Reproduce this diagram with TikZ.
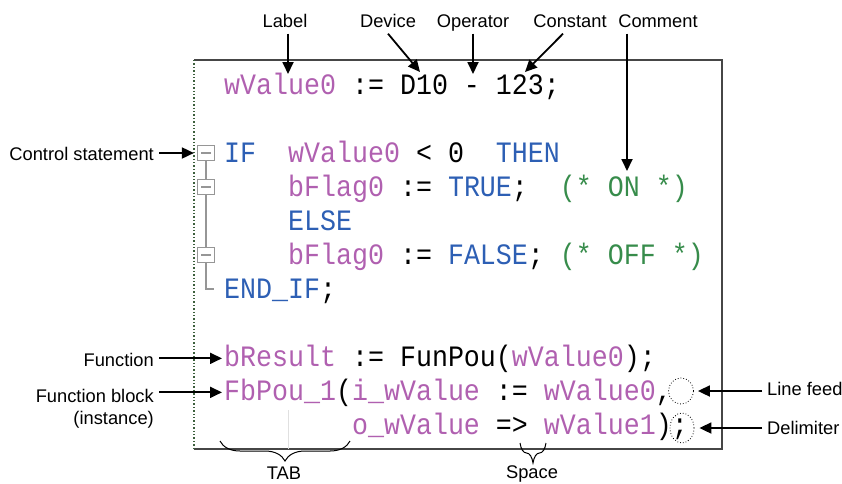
\documentclass[tikz,border=0pt]{standalone}
\usepackage{fontspec}
\setmainfont{Liberation Sans}
\newfontfamily\codefont[FakeStretch=0.9]{Liberation Mono}
\usetikzlibrary{arrows.meta,decorations.pathreplacing,shapes.geometric}

\definecolor{varcol}{RGB}{176,96,176}
\definecolor{keycol}{RGB}{45,95,180}
\definecolor{comcol}{RGB}{55,140,75}
\definecolor{foldcol}{RGB}{150,150,150}
\definecolor{framecol}{RGB}{70,70,70}
\definecolor{gridcol}{RGB}{60,95,60}

\newcommand{\stvar}[1]{\textcolor{varcol}{#1}}
\newcommand{\stkey}[1]{\textcolor{keycol}{#1}}
\newcommand{\stcom}[1]{\textcolor{comcol}{#1}}

\tikzset{
	codeline/.style={font=\codefont\fontsize{29.6}{34}\selectfont, inner sep=0pt, anchor=base west},
	lbl/.style={font=\fontsize{18.3}{22}\selectfont, inner xsep=5pt, inner ysep=3pt},
	lblfix/.style={lbl, text height=13pt, text depth=3.5pt},
	callout/.style={-{Triangle[length=12pt,width=11pt]}, line width=1.8pt},
	foldbox/.style={draw=foldcol, line width=1.2pt, minimum width=17pt, minimum height=15pt, inner sep=0pt},
	foldline/.style={foldcol, line width=1.2pt},
	markring/.style={draw, dotted, line width=0.8pt, ellipse, inner sep=0pt},
	bracket/.style={decorate, decoration={brace, amplitude=20pt, mirror}, line width=1pt}
}

\begin{document}
\begin{tikzpicture}[x=1pt,y=-1pt]

	% ---- parameters

	\def\cx{224}
	\def\rowbase{60}
	\def\pitch{34}

	\useasboundingbox (0,0) rectangle (842,483);

	% ---- coordinates

	\coordinate (boxNW) at (194,60);
	\coordinate (boxNE) at (722,60);
	\coordinate (boxSE) at (722,449);
	\coordinate (boxSW) at (194,449);

	\coordinate (tLabel) at (288,74);
	\coordinate (tDevice) at (420,72);
	\coordinate (tOperator) at (473,74);
	\coordinate (tConstant) at (525,72);
	\coordinate (tComment) at (627,171);

	% ---- editor frame

	\draw[framecol, line width=1.4pt] (boxNW) -- (boxNE) -- (boxSE) -- (boxSW);
	\draw[gridcol, line width=1.4pt, dotted] (boxNW) -- (boxSW);

	% ---- tab guide

	\coordinate (guideT) at (288,410);
	\draw[black!12, line width=1pt] (guideT) -- (guideT |- boxSW);

	% ---- code

	\node[codeline] (c1) at (\cx,{\rowbase+\pitch*1}) {\stvar{wValue0}~:=~D10~-~123;};
	\node[codeline] (c3) at (\cx,{\rowbase+\pitch*3}) {\stkey{IF}~~\stvar{wValue0}~<~0~~\stkey{THEN}};
	\node[codeline] (c4) at (\cx,{\rowbase+\pitch*4}) {~~~~\stvar{bFlag0}~:=~\stkey{TRUE};~~\stcom{(*~ON~*)}};
	\node[codeline] (c5) at (\cx,{\rowbase+\pitch*5}) {~~~~\stkey{ELSE}};
	\node[codeline] (c6) at (\cx,{\rowbase+\pitch*6}) {~~~~\stvar{bFlag0}~:=~\stkey{FALSE};~\stcom{(*~OFF~*)}};
	\node[codeline] (c7) at (\cx,{\rowbase+\pitch*7}) {\stkey{END\_IF};};
	\node[codeline] (c9) at (\cx,{\rowbase+\pitch*9}) {\stvar{bResult}~:=~FunPou(\stvar{wValue0});};
	\node[codeline] (c10) at (\cx,{\rowbase+\pitch*10}) {\stvar{FbPou\_1}(\stvar{i\_wValue}~:=~\stvar{wValue0},};
	\node[codeline] (c11) at (\cx,{\rowbase+\pitch*11}) {~~~~~~~~\stvar{o\_wValue}~=>~\stvar{wValue1});};

	% ---- fold markers

	\foreach \r/\n in {3/1,4/2,6/3} {
		\node[foldbox] (f\n) at (206,{\rowbase+\pitch*\r-9}) {};
		\draw[foldline] ([xshift=-5pt]f\n.center) -- ([xshift=5pt]f\n.center);
	}
	\coordinate (fend) at (214,{\rowbase+\pitch*7-9});
	\draw[foldline] (f1.south) -- (f2.north) (f2.south) -- (f3.north) (f3.south) |- (fend);

	% ---- dotted rings

	\node[markring, minimum width=25pt, minimum height=26pt] (eFeed) at (681,391) {};
	\node[markring, minimum width=24pt, minimum height=30pt] (eDelim) at (682,428) {};

	% ---- labels

	\node[lblfix, anchor=base] (nLabel) at (285,27) {Label};
	\node[lblfix, anchor=base] (nDevice) at (388,27) {Device};
	\node[lblfix, anchor=base] (nOperator) at (473,27) {Operator};
	\node[lblfix, anchor=base] (nConstant) at (570,27) {Constant};
	\node[lblfix, anchor=base] (nComment) at (658,27) {Comment};

	\node[lblfix, anchor=base east] (nControl) at (159,160) {Control statement};
	\node[lblfix, anchor=base east] (nFunction) at (159,366) {Function};
	\node[lbl, align=right, anchor=north east] (nBlock) at (159,386) {Function block\\(instance)};

	\node[lblfix, anchor=base west] (nFeed) at (762,395) {Line feed};
	\node[lblfix, anchor=base west] (nDelim) at (762,434) {Delimiter};

	\node[lblfix, anchor=base] (nTab) at (284,479) {TAB};
	\node[lblfix, anchor=base] (nSpace) at (532,478) {Space};

	% ---- arrows

	\draw[callout] (nLabel.south -| tLabel) -- (tLabel);
	\draw[callout] (nDevice.south) -- (tDevice);
	\draw[callout] (nOperator.south) -- (tOperator);
	\draw[callout] ([xshift=-7pt]nConstant.south) -- (tConstant);
	\draw[callout] (nComment.south -| tComment) -- (tComment);

	\draw[callout, shorten >=3pt] (nControl.east |- f1.west) -- (f1.west);
	\draw[callout, shorten >=2pt] (nFunction.east |- c9.west) -- (c9.west);
	\draw[callout, shorten >=2pt] (nBlock.east |- c10.west) -- (c10.west);

	\draw[callout, shorten >=4pt] (nFeed.west |- eFeed.east) -- (eFeed.east);
	\draw[callout, shorten >=5pt] (nDelim.west |- eDelim.east) -- (eDelim.east);

	% ---- braces

	\coordinate (tabL) at (220,441);
	\coordinate (tabR) at (350,441);
	\coordinate (spL) at (520,443);
	\coordinate (spR) at (546,443);
	\draw[bracket] (tabL) -- (tabR);
	\draw[bracket] (spL) -- (spR);

\end{tikzpicture}
\end{document}
